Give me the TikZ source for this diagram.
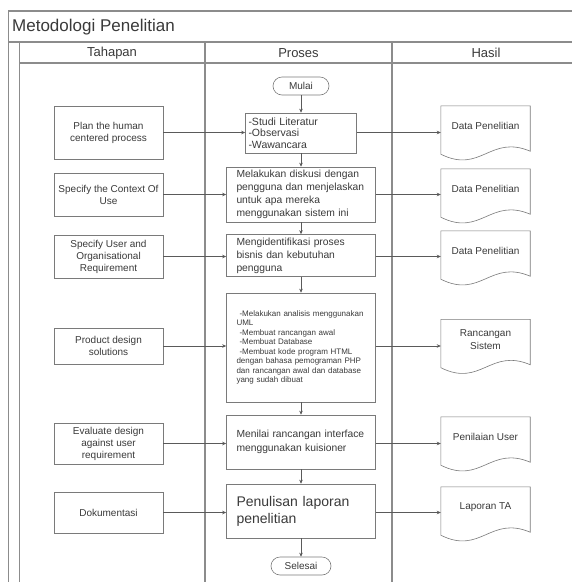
\documentclass[tikz,border=0pt]{standalone}
\usepackage{fontspec}
\setmainfont{Liberation Sans}
\usetikzlibrary{arrows.meta,calc}
\definecolor{frm}{HTML}{8C8C8C}
\definecolor{bx}{HTML}{7A7A7A}
\definecolor{txt}{HTML}{3A3A3A}
\definecolor{ln}{HTML}{5A5A5A}
\begin{document}
\begin{tikzpicture}[x=1pt,y=-1pt,
  frame/.style={draw=frm,line width=1.1pt},
  hdr/.style={text=txt,inner sep=0pt,font=\fontsize{13}{15}\selectfont},
  lbox/.style={draw=bx,line width=0.6pt,minimum width=109pt,inner sep=3pt,align=center,text=txt,font=\fontsize{10}{12}\selectfont},
  mbox/.style={draw=bx,line width=0.6pt,minimum width=149pt,inner xsep=10pt,inner ysep=2pt,text width=129pt,align=left,text=txt,font=\fontsize{10.3}{13}\selectfont},
  term/.style={draw=bx,line width=0.6pt,rounded corners=9pt,minimum height=18pt,text=txt,font=\fontsize{10}{12}\selectfont,inner sep=2pt},
  doc/.style={minimum width=89pt,minimum height=40pt,inner sep=2pt,align=center,text=txt,font=\fontsize{10}{13}\selectfont},
  docline/.style={draw=bx,line width=0.6pt},
  arr/.style={draw=ln,line width=0.6pt,-{Stealth[length=4pt,width=3.5pt]}}]
\useasboundingbox (0,0) rectangle (572,582);
\fill[white] (0,0) rectangle (572,582);
% frame
\draw[frame] (572,11) -- (8.5,11) -- (8.5,582);
\draw[frame] (8.5,42) -- (572,42);
\draw[frame] (19.5,42) -- (19.5,582);
\draw[frame] (19.5,63) -- (572,63);
\draw[frame] (205,42) -- (205,582);
\draw[frame] (392,42) -- (392,582);
% titles
\node[anchor=west,text=txt,inner sep=0pt,font=\fontsize{17}{20}\selectfont] (title) at (12,27) {Metodologi Penelitian};
\node[hdr] (h1) at (112,53) {Tahapan};
\node[hdr] (h2) at (298.5,53) {Proses};
\node[hdr] (h3) at (486,53) {Hasil};
% left column
\node[lbox,minimum height=53pt] (l1) at (108.5,132.5) {Plan the human\\centered process};
\node[lbox,minimum height=43pt] (l2) at (108.5,194.5) {Specify the Context Of\\Use};
\node[lbox,minimum height=43pt] (l3) at (108.5,256.5) {Specify User and\\Organisational\\Requirement};
\node[lbox,minimum height=36pt] (l4) at (108.5,346) {Product design\\solutions};
\node[lbox,minimum height=41pt] (l5) at (108.5,443.5) {Evaluate design\\against user\\requirement};
\node[lbox,minimum height=41pt] (l6) at (108.5,512.5) {Dokumentasi};
% middle column
\node[term,minimum width=56pt] (mulai) at (301,86) {Mulai};
\node[mbox,minimum width=111pt,text width=105pt,inner xsep=3pt,minimum height=40pt,font=\fontsize{10.5}{11.5}\selectfont] (m1) at (301,133) {-Studi Literatur\\-Observasi\\-Wawancara};
\node[mbox,minimum height=55pt] (m2) at (301,194.5) {Melakukan diskusi dengan\\pengguna dan menjelaskan\\untuk apa mereka\\menggunakan sistem ini};
\node[mbox,minimum height=42pt] (m3) at (301,255.5) {Mengidentifikasi proses\\bisnis dan kebutuhan\\pengguna};
\node[mbox,minimum height=109pt,font=\fontsize{8}{9.5}\selectfont] (m4) at (301,347.5) {\hspace*{3pt}-Melakukan analisis menggunakan\\UML\\\hspace*{3pt}-Membuat rancangan awal\\\hspace*{3pt}-Membuat Database\\\hspace*{3pt}-Membuat kode program HTML\\dengan bahasa pemograman PHP\\dan rancangan awal dan database\\yang sudah dibuat};
\node[mbox,minimum height=54pt,font=\fontsize{10.3}{14}\selectfont] (m5) at (301,442) {Menilai rancangan interface\\menggunakan kuisioner};
\node[mbox,minimum height=54pt,font=\fontsize{14}{17}\selectfont] (m6) at (301,511) {Penulisan laporan\\penelitian};
\node[term,minimum width=60pt] (selesai) at (301,566) {Selesai};
% right column documents
\node[doc] (d1) at (485.5,126) {Data Penelitian};
\node[doc] (d2) at (485.5,189) {Data Penelitian};
\node[doc] (d3) at (485.5,251) {Data Penelitian};
\node[doc] (d4) at (485.5,339.5) {Rancangan\\Sistem};
\node[doc] (d5) at (485.5,437) {Penilaian User};
\node[doc] (d6) at (485.5,507) {Laporan TA};
\foreach \dn in {d1,d2,d3,d4,d5,d6}{
  \draw[docline] ($(\dn.south west)+(0,8)$) -- (\dn.north west) -- (\dn.north east) -- ($(\dn.south east)+(0,5)$)
    .. controls ($(\dn.south west)!0.55!(\dn.south east)+(0,-12)$) and ($(\dn.south west)!0.45!(\dn.south east)+(0,28)$) .. ($(\dn.south west)+(0,8)$);
}
% horizontal connectors
\foreach \i in {1,...,6}{
  \draw[arr] (l\i.east) -- (l\i.east -| m\i.west);
  \draw[arr] (m\i.east |- l\i.east) -- (d\i.west |- l\i.east);
}
% vertical connectors
\draw[arr] (mulai.south) -- (mulai.south |- m1.north);
\foreach \a/\b in {m1/m2,m2/m3,m3/m4,m4/m5,m5/m6}{
  \draw[arr] (\a.south) -- (\a.south |- \b.north);
}
\draw[arr] (m6.south) -- (m6.south |- selesai.north);
\end{tikzpicture}
\end{document}
